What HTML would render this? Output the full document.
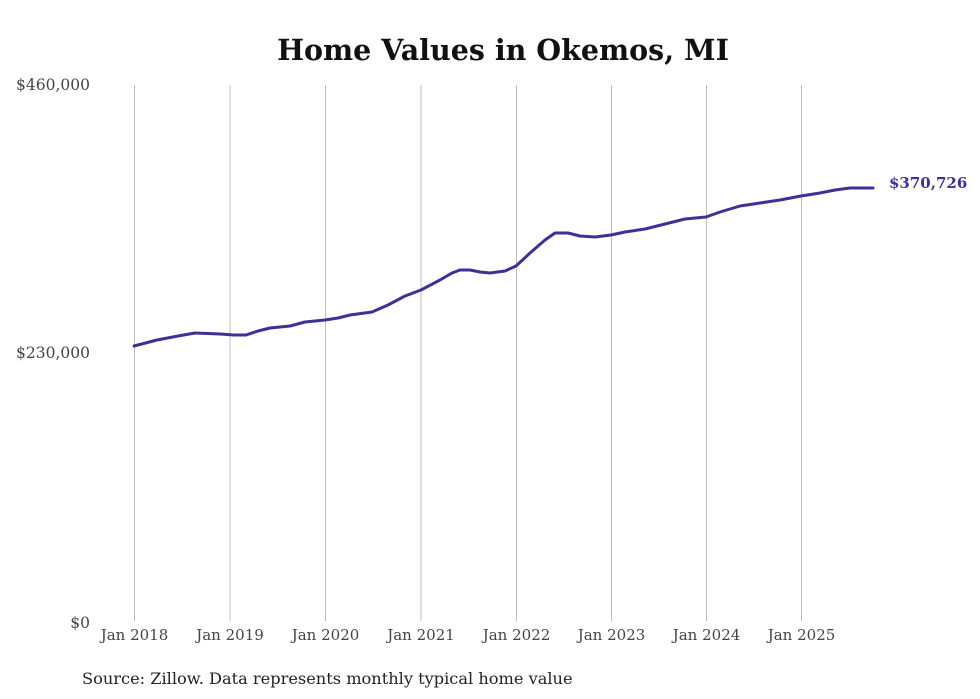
<!DOCTYPE html>
<html><head><meta charset="utf-8"><style>
html,body{margin:0;padding:0;background:#fff;width:980px;height:699px;overflow:hidden}
svg{display:block}
</style></head><body>
<svg width="980" height="699" xmlns="http://www.w3.org/2000/svg" font-family="DejaVu Serif, Liberation Serif, serif">
<text x="503" y="60" text-anchor="middle" font-size="28.5" font-weight="bold" fill="#111">Home Values in Okemos, MI</text>
<g stroke="#bdbdbd" stroke-width="1">
<line x1="134.5" y1="85" x2="134.5" y2="621"/>
<line x1="230" y1="85" x2="230" y2="621"/>
<line x1="325.5" y1="85" x2="325.5" y2="621"/>
<line x1="421" y1="85" x2="421" y2="621"/>
<line x1="516.5" y1="85" x2="516.5" y2="621"/>
<line x1="611.5" y1="85" x2="611.5" y2="621"/>
<line x1="706.5" y1="85" x2="706.5" y2="621"/>
<line x1="801.5" y1="85" x2="801.5" y2="621"/>
</g>
<g font-size="15.5" fill="#444" text-anchor="end">
<text x="90" y="90">$460,000</text>
<text x="90" y="358">$230,000</text>
<text x="90" y="628">$0</text>
</g>
<g font-size="15" fill="#444" text-anchor="middle">
<text x="134.5" y="640">Jan 2018</text>
<text x="230" y="640">Jan 2019</text>
<text x="325.5" y="640">Jan 2020</text>
<text x="421" y="640">Jan 2021</text>
<text x="516.5" y="640">Jan 2022</text>
<text x="611.5" y="640">Jan 2023</text>
<text x="706.5" y="640">Jan 2024</text>
<text x="801.5" y="640">Jan 2025</text>
</g>
<polyline fill="none" stroke="#3a3296" stroke-width="3" stroke-linejoin="round" stroke-linecap="round"
points="134,346 157,340 178,336 195,333 220,334 234,335 246,335 258,331 270,328 290,326 305,322 325,320 338,318 350,315 372,312 388,305 405,296 421,290 440,280 452,273 460,270 470,270 480,272 490,273 505,271 516,266 530,253 545,240 555,233 568,233 580,236 595,237 611,235 625,232 645,229 665,224 685,219 706,217 720,212 740,206 760,203 780,200 801,196 820,193 835,190 850,188 873,188"/>
<text x="889" y="188" font-size="15" font-weight="bold" fill="#3a3296">$370,726</text>
<text x="82" y="684" font-size="16.2" fill="#222">Source: Zillow. Data represents monthly typical home value</text>
</svg>
</body></html>
